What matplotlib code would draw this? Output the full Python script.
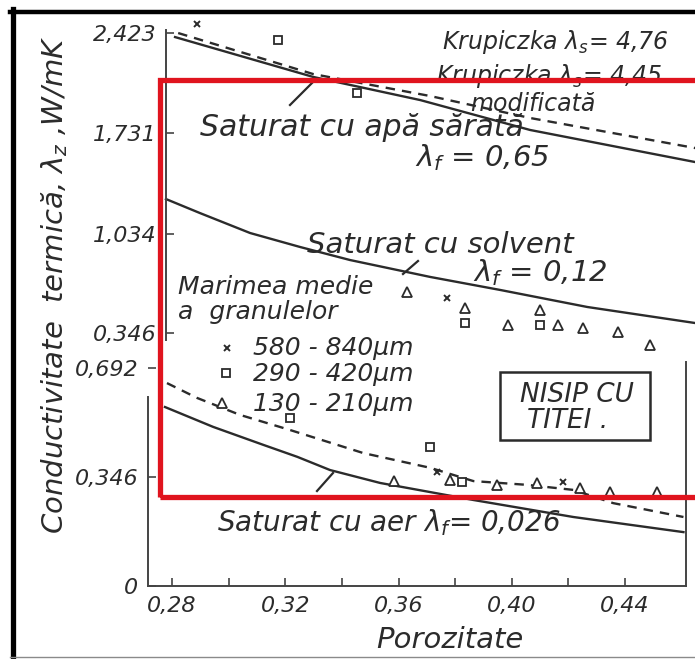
import matplotlib
matplotlib.use('agg')
import matplotlib.pyplot as plt
from matplotlib.lines import Line2D
from matplotlib.patches import Rectangle

# curves: porosity vs thermal conductivity (W/mK)
# upper part of the broken axis (0,346 ... 2,423)
por_sarata = [0.2747, 0.3235, 0.3613, 0.4001, 0.4584]
lam_sarata = [2.394, 2.118, 1.958, 1.751, 1.529]

por_krup = [0.2758, 0.3235, 0.3648, 0.4001, 0.4584]
lam_krup = [2.422, 2.138, 1.986, 1.834, 1.626]

por_solvent = [0.2715, 0.2835, 0.3012, 0.3189, 0.3365, 0.3648, 0.3895, 0.4203, 0.4584]
lam_solvent = [1.273, 1.176, 1.038, 0.941, 0.851, 0.734, 0.644, 0.526, 0.415]

# measured points, upper part
up_x_por = [0.2825, 0.3708]
up_x_lam = [2.484, 0.588]
up_sq_por = [0.3111, 0.3390, 0.3772, 0.4037]
up_sq_lam = [2.374, 2.007, 0.415, 0.401]
up_tri_por = [0.3567, 0.3772, 0.3924, 0.4037, 0.4100, 0.4189, 0.4312, 0.4426]
up_tri_lam = [0.630, 0.519, 0.401, 0.505, 0.401, 0.381, 0.353, 0.263]

# lower part of the axis (0 ... 0,692)
por_aer = [0.2775, 0.2945, 0.3122, 0.3242, 0.3358, 0.3535, 0.3712, 0.3864, 0.4217, 0.4606]
lam_aer = [0.568, 0.505, 0.448, 0.410, 0.368, 0.327, 0.298, 0.273, 0.219, 0.171]
por_aer_mod = [0.2782, 0.2888, 0.3040, 0.3217, 0.3475, 0.3712, 0.3864, 0.4054, 0.4217, 0.4358, 0.4606]
lam_aer_mod = [0.644, 0.597, 0.543, 0.495, 0.422, 0.375, 0.333, 0.321, 0.305, 0.263, 0.219]

lo_x_por = [0.3736, 0.4182]
lo_x_lam = [0.362, 0.330]
lo_sq_por = [0.3217, 0.3712, 0.3825]
lo_sq_lam = [0.533, 0.441, 0.330]
lo_tri_por = [0.3584, 0.3782, 0.3948, 0.4090, 0.4242, 0.4348, 0.4514]
lo_tri_lam = [0.333, 0.337, 0.321, 0.327, 0.311, 0.298, 0.298]

yt_top = [0.346, 1.034, 1.731, 2.423]
yt_bot = [0, 0.346, 0.692]
xt_major = [0.28, 0.32, 0.36, 0.40, 0.44]
xt_minor = [0.30, 0.34, 0.38, 0.42]

INK = '#2b2b2b'
W, H = 695, 659

plt.rcParams['font.family'] = ['DejaVu Sans']
plt.rcParams['font.style'] = 'italic'


def fx(x):
    return x / W


def fy(y):
    return 1 - y / H


def comma(v, nd):
    return '0' if v == 0 else f'{v:.{nd}f}'.replace('.', ',')


fig = plt.figure(figsize=(W / 100, H / 100), dpi=100)
fig.patch.set_facecolor('white')

ax_top = fig.add_axes([fx(166), fy(350), 538 / W, 332 / H])
ax_bot = fig.add_axes([fx(148), fy(586), 538 / W, 236 / H])
for ax in (ax_top, ax_bot):
    ax.set_facecolor('none')
    ax.set_xlim(0.2715, 0.4615)
    for s in ax.spines.values():
        s.set_color('#444444')
        s.set_linewidth(1.4)
    ax.tick_params(direction='in', length=6, width=1.2, colors='#444444',
                   labelcolor=INK, labelsize=16, pad=7)
    ax.tick_params(which='minor', direction='in', length=6, width=1.2, colors='#444444')

ax_top.set_ylim(0.2284, 2.526)
ax_bot.set_ylim(0, 0.749)

ax_top.spines[['top', 'right', 'bottom']].set_visible(False)
ax_top.spines['left'].set_bounds(0.30, 2.445)
ax_top.set_xticks([])
ax_top.set_yticks(yt_top, [comma(v, 3) for v in yt_top])

ax_bot.spines['top'].set_visible(False)
ax_bot.spines['left'].set_bounds(0, 0.60)
ax_bot.spines['right'].set_bounds(0, 0.71)
ax_bot.set_yticks(yt_bot, [comma(v, 3) for v in yt_bot])
ax_bot.set_xticks(xt_major, [comma(v, 2) for v in xt_major])
ax_bot.set_xticks(xt_minor, minor=True)

line_kw = dict(color=INK, lw=1.7, clip_on=False)
ax_top.plot(por_sarata, lam_sarata, '-', **line_kw)
ax_top.plot(por_krup, lam_krup, '--', dashes=(4, 3), **line_kw)
ax_top.plot(por_solvent, lam_solvent, '-', **line_kw)
ax_bot.plot(por_aer, lam_aer, '-', **line_kw)
ax_bot.plot(por_aer_mod, lam_aer_mod, '--', dashes=(4, 3), **line_kw)

mk_x = dict(ls='none', marker='x', ms=5, mew=1.4, color=INK, clip_on=False)
mk_sq = dict(ls='none', marker='s', ms=6, mew=1.3, mfc='white', mec=INK, clip_on=False)
mk_tri = dict(ls='none', marker='^', ms=7, mew=1.3, mfc='white', mec=INK, clip_on=False)
ax_top.plot(up_x_por, up_x_lam, **mk_x)
ax_top.plot(up_sq_por, up_sq_lam, **mk_sq)
ax_top.plot(up_tri_por, up_tri_lam, **mk_tri)
ax_bot.plot(lo_x_por, lo_x_lam, **mk_x)
ax_bot.plot(lo_sq_por, lo_sq_lam, **mk_sq)
ax_bot.plot(lo_tri_por, lo_tri_lam, **mk_tri)


def label(x, y, s, size=20, ha='left', **kw):
    fig.text(fx(x), fy(y), s, fontsize=size, ha=ha, va='center', color=INK, **kw)


def leader(x0, y0, x1, y1):
    fig.add_artist(Line2D([fx(x0), fx(x1)], [fy(y0), fy(y1)], color=INK, lw=1.6))


label(442, 42, r'Krupiczka $\lambda_s$= 4,76', 17)
label(436, 76, r'Krupiczka $\lambda_s$= 4,45', 17)
label(470, 104, 'modificată', 17)
label(200, 127, 'Saturat cu apă sărată', 21.5)
label(415, 158, r'$\lambda_f$ = 0,65', 21)
label(307, 245, 'Saturat cu solvent', 21)
label(473, 273, r'$\lambda_f$ = 0,12', 21)
label(178, 287, 'Marimea medie', 18)
label(178, 312, 'a  granulelor', 18)
label(253, 348, '580 - 840μm', 18)
label(253, 374, '290 - 420μm', 18)
label(253, 404, '130 - 210μm', 18)
label(217, 523, r'Saturat cu aer $\lambda_f$= 0,026', 20)
label(577, 395, 'NISIP CU', 19, ha='center')
label(568, 421, 'TITEI .', 19, ha='center')
label(450, 640, 'Porozitate', 21, ha='center')
fig.text(fx(55), fy(285), r'Conductivitate  termică, $\lambda_z$ ,W/mK', rotation=90,
         fontsize=21, ha='center', va='center', color=INK)

# legend symbols
fig.add_artist(Line2D([fx(227)], [fy(348)], **mk_x))
fig.add_artist(Line2D([fx(226)], [fy(373)], **mk_sq))
fig.add_artist(Line2D([fx(222)], [fy(403)], **mk_tri))

leader(290, 105, 313, 82)
leader(418, 261, 403, 274)
leader(317, 491, 333, 473)

fig.add_artist(Rectangle((fx(500), fy(440)), 150 / W, 68 / H, fill=False,
                         ec=INK, lw=1.8, transform=fig.transFigure))

# red highlight frame
fig.add_artist(Rectangle((fx(160), fy(497)), 560 / W, 417 / H, fill=False,
                         ec='#e0141e', lw=3.8, transform=fig.transFigure, zorder=10))

# scan border
fig.add_artist(Line2D([fx(12.5), fx(12.5)], [fy(9), fy(659)], color='black', lw=3.8, zorder=11))
fig.add_artist(Line2D([fx(10), fx(695)], [fy(11.5), fy(11.5)], color='black', lw=3.2, zorder=11))
fig.add_artist(Line2D([fx(10), fx(695)], [fy(657), fy(657)], color='#8a8a8a', lw=1.0, zorder=11))

fig.savefig('out.png', dpi=100)
